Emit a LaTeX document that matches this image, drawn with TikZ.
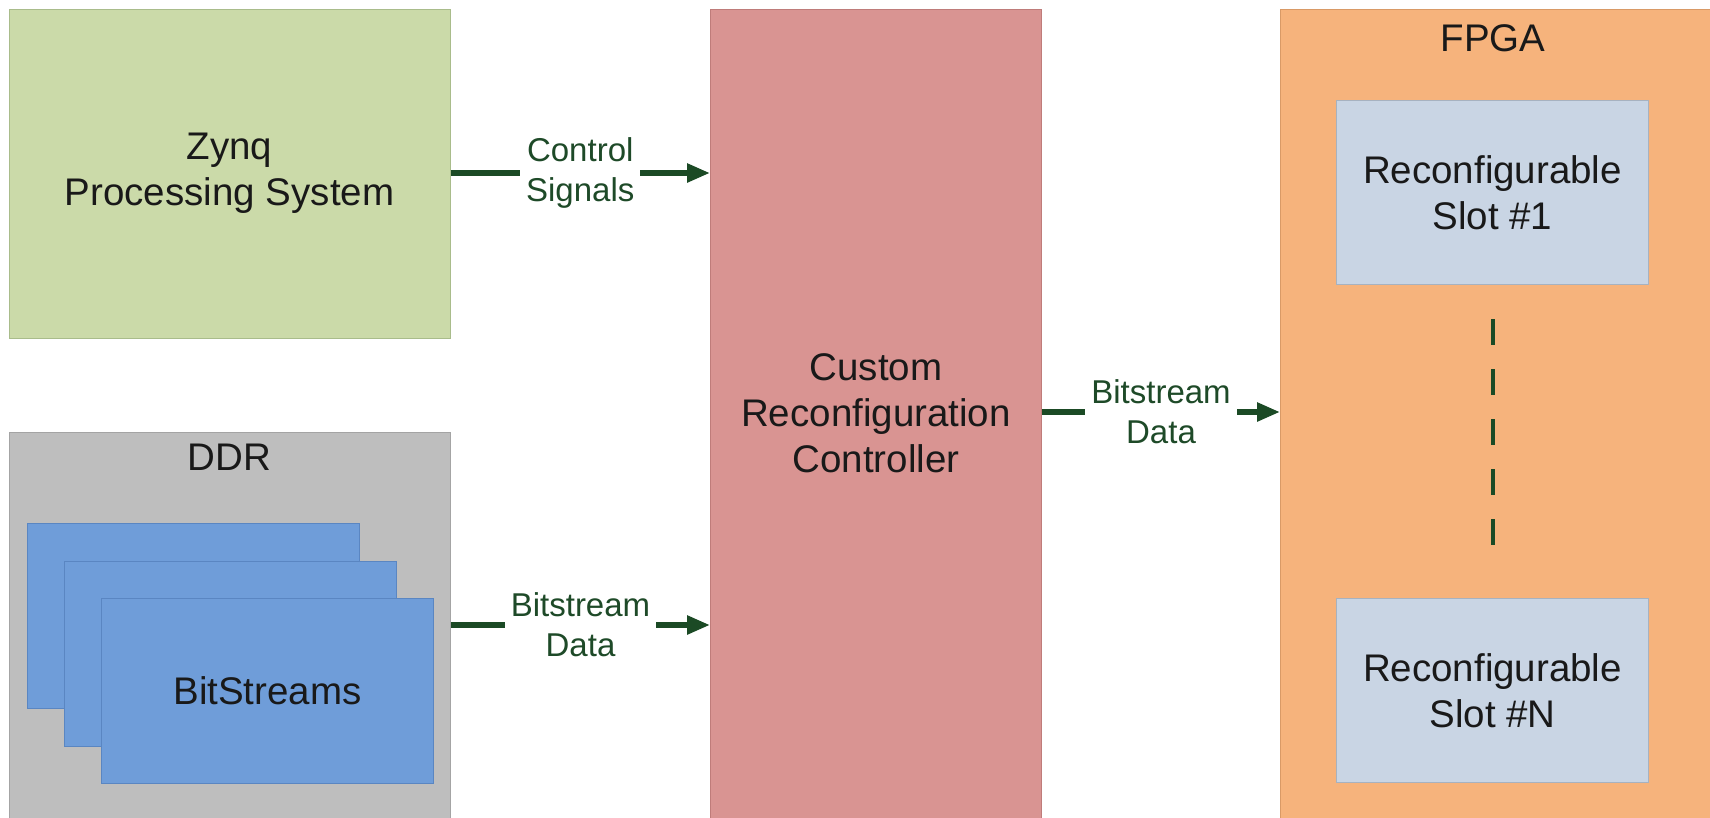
\documentclass[tikz,border=0pt]{standalone}
\usepackage{fontspec}
\setmainfont{Liberation Sans}
\usetikzlibrary{arrows.meta,calc}
\definecolor{zgreen}{HTML}{CBDAA9}
\definecolor{zgreenB}{HTML}{A9BC8B}
\definecolor{ddrgray}{HTML}{BEBEBE}
\definecolor{ddrgrayB}{HTML}{A4A4A4}
\definecolor{sheetblue}{HTML}{6F9DD9}
\definecolor{sheetblueB}{HTML}{5A86C2}
\definecolor{ctrlpink}{HTML}{D99492}
\definecolor{ctrlpinkB}{HTML}{BF7C7A}
\definecolor{fpgaorange}{HTML}{F6B37C}
\definecolor{fpgaorangeB}{HTML}{D99A66}
\definecolor{slotblue}{HTML}{C9D5E4}
\definecolor{slotblueB}{HTML}{A7B2C0}
\definecolor{darkgreen}{HTML}{1B4A25}
\definecolor{labgreen}{HTML}{1E4A28}
\tikzset{
  box/.style={draw, line width=1pt, inner sep=0pt, align=center,
    font=\fontsize{38.5}{46}\selectfont, text=black!90},
  maintext/.style={inner sep=0pt, align=center, font=\fontsize{38.5}{46}\selectfont, text=black!90},
  arr/.style={draw=darkgreen, line width=5.5pt, -{Triangle[length=23pt,width=18pt]}},
  lab/.style={fill=white, inner xsep=6pt, inner ysep=2pt, align=center,
    font=\fontsize{33}{40}\selectfont, text=labgreen},
  dashline/.style={draw=darkgreen, line width=4pt, dash pattern=on 26pt off 24pt}
}
\begin{document}
\begin{tikzpicture}[x=1pt,y=-1pt]
\useasboundingbox (0,0) rectangle (1710,817);
\fill[white] (0,0) rectangle (1710,817);
% Zynq
\node[box, fill=zgreen, draw=zgreenB, minimum width=441pt, minimum height=329pt] (zynq) at (229.5,173.5) {Zynq\\Processing System};
% DDR
\node[box, fill=ddrgray, draw=ddrgrayB, minimum width=441pt, minimum height=400pt, anchor=north west] (ddr) at (9,432) {};
\node[maintext] (ddrlbl) at (229.5,457) {DDR};
\node[box, fill=sheetblue, draw=sheetblueB, minimum width=332pt, minimum height=185pt, anchor=north west] (sheet1) at (27,523) {};
\node[box, fill=sheetblue, draw=sheetblueB, minimum width=332pt, minimum height=185pt, anchor=north west] (sheet2) at (64,561) {};
\node[box, fill=sheetblue, draw=sheetblueB, minimum width=332pt, minimum height=185pt, anchor=north west] (sheet3) at (101,598) {BitStreams};
% Controller
\node[box, fill=ctrlpink, draw=ctrlpinkB, minimum width=331pt, minimum height=816pt, anchor=north west] (ctrl) at (710,9) {};
\node[maintext] (ctrltxt) at (ctrl.center |- 0,413) {Custom\\Reconfiguration\\Controller};
% FPGA
\node[box, fill=fpgaorange, draw=fpgaorangeB, minimum width=440pt, minimum height=816pt, anchor=north west] (fpga) at (1280,9) {};
\node[maintext] (fpgalbl) at (1493,38) {FPGA};
\node[box, fill=slotblue, draw=slotblueB, minimum width=312pt, minimum height=184pt, anchor=north west] (slot1) at (1336,100) {Reconfigurable\\Slot \#1};
\node[box, fill=slotblue, draw=slotblueB, minimum width=312pt, minimum height=184pt, anchor=north west] (slotN) at (1336,598) {Reconfigurable\\Slot \#N};
% dashed connector between slots
\coordinate (dtop) at ($(slot1.south)+(0,34)$);
\coordinate (dbot) at ($(slotN.north)+(0,-52)$);
\draw[dashline] (dtop) -- (dbot);
% arrows
\coordinate (y1) at (0,173);
\coordinate (y2) at (0,625);
\coordinate (y3) at (0,412);
\draw[arr] (zynq.east |- y1) -- node[lab] {Control\\Signals} (ctrl.west |- y1);
\draw[arr] (ddr.east |- y2) -- node[lab] {Bitstream\\Data} (ctrl.west |- y2);
\draw[arr] (ctrl.east |- y3) -- node[lab] {Bitstream\\Data} (fpga.west |- y3);
\end{tikzpicture}
\end{document}
